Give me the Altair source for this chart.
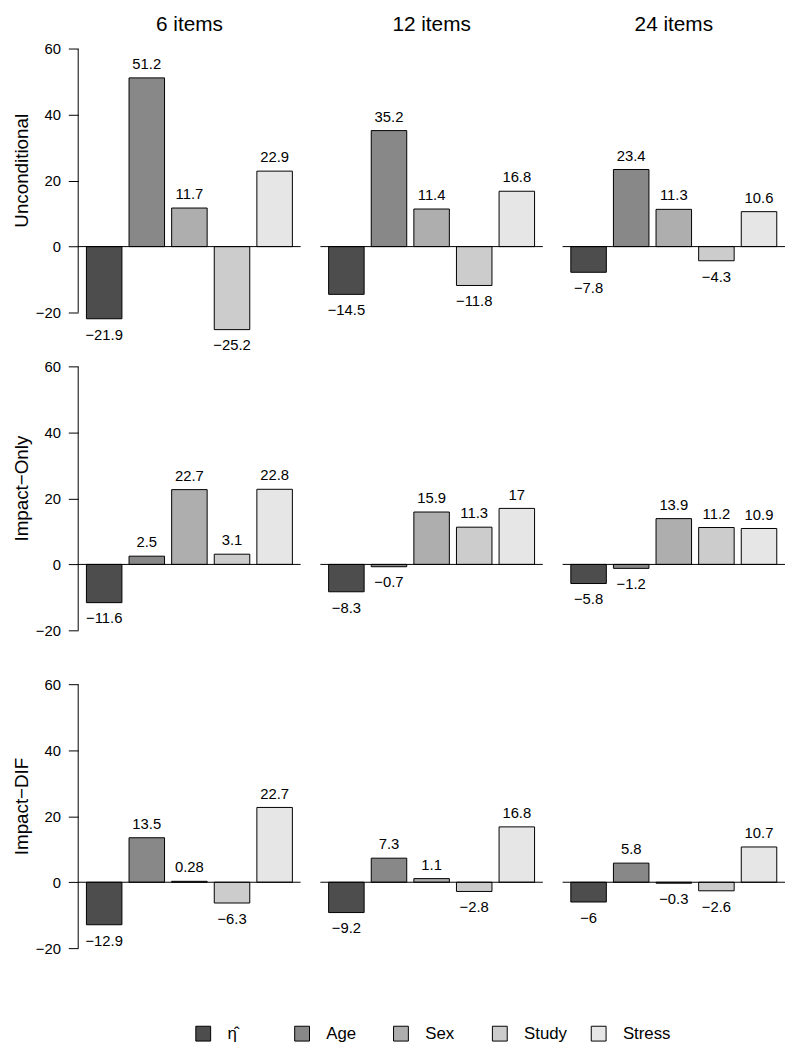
import altair as alt
import pandas as pd

categories = ["η̂", "Age", "Sex", "Study", "Stress"]
col_titles = ["6 items", "12 items", "24 items"]
row_titles = ["Unconditional", "Impact−Only", "Impact−DIF"]
gray_fills = ["#4d4d4d", "#888888", "#aeaeae", "#cccccc", "#e6e6e6"]
y_ticks = [-20, 0, 20, 40, 60]

unconditional_6 = [-21.9, 51.2, 11.7, -25.2, 22.9]
unconditional_12 = [-14.5, 35.2, 11.4, -11.8, 16.8]
unconditional_24 = [-7.8, 23.4, 11.3, -4.3, 10.6]
impact_only_6 = [-11.6, 2.5, 22.7, 3.1, 22.8]
impact_only_12 = [-8.3, -0.7, 15.9, 11.3, 17]
impact_only_24 = [-5.8, -1.2, 13.9, 11.2, 10.9]
impact_dif_6 = [-12.9, 13.5, 0.28, -6.3, 22.7]
impact_dif_12 = [-9.2, 7.3, 1.1, -2.8, 16.8]
impact_dif_24 = [-6, 5.8, -0.3, -2.6, 10.7]

grid = [
    [unconditional_6, unconditional_12, unconditional_24],
    [impact_only_6, impact_only_12, impact_only_24],
    [impact_dif_6, impact_dif_12, impact_dif_24],
]

PANEL_W = 225
PANEL_H = 313.333
Y_DOMAIN = [-30, 64]
FONT = "Liberation Sans"


def fmt(v):
    return f"{v:g}".replace("-", "−")


def panel(vals, r, c):
    df = pd.DataFrame({"cat": categories, "value": vals,
                       "label": [fmt(v) for v in vals]})
    yscale = alt.Scale(domain=Y_DOMAIN, nice=False, zero=False)
    if c == 0:
        yaxis = alt.Axis(values=y_ticks, domain=False, grid=False, ticks=True,
                         tickSize=10, tickColor="black", tickWidth=1,
                         labelFontSize=15, labelPadding=8, labelColor="black",
                         labelFont=FONT, title=None,
                         labelExpr="replace(datum.label, '-', '−')")
    else:
        yaxis = None
    x = alt.X("cat:N", sort=categories, axis=None,
              scale=alt.Scale(paddingInner=0.2 / 1.2, paddingOuter=0.232 / 1.2))
    base = alt.Chart(df)
    bars = base.mark_bar(stroke="black", strokeWidth=1, opacity=1).encode(
        x=x,
        y=alt.Y("value:Q", scale=yscale, axis=yaxis, stack=None),
        y2=alt.datum(0),
        color=alt.Color(
            "cat:N",
            scale=alt.Scale(domain=categories, range=gray_fills),
            legend=alt.Legend(
                orient="none", legendX=118, legendY=1001, direction="horizontal",
                title=None, symbolType="square", symbolSize=225,
                symbolStrokeColor="black", symbolStrokeWidth=1, symbolOpacity=1,
                labelFontSize=17, labelFont=FONT, labelColor="black",
                labelOffset=16, columns=5, gridAlign="all", columnPadding=17,
            ),
        ),
    )
    pos_lab = base.transform_filter("datum.value >= 0").mark_text(
        baseline="alphabetic", dy=-9, fontSize=15, font=FONT, color="black"
    ).encode(x=x, y=alt.Y("value:Q", scale=yscale), text="label:N")
    neg_lab = base.transform_filter("datum.value < 0").mark_text(
        baseline="top", dy=9, fontSize=15, font=FONT, color="black"
    ).encode(x=x, y=alt.Y("value:Q", scale=yscale), text="label:N")
    one = alt.Data(values=[{"k": 1}])
    zero_line = alt.Chart(one).mark_rule(color="black", strokeWidth=1).encode(
        y=alt.datum(0), x=alt.value(0), x2=alt.value(PANEL_W)
    )
    layers = [bars, zero_line, pos_lab, neg_lab]
    if c == 0:
        axis_line = alt.Chart(one).mark_rule(color="black", strokeWidth=1).encode(
            x=alt.value(0), y=alt.datum(y_ticks[0]), y2=alt.datum(y_ticks[-1])
        )
        row_lab = alt.Chart(pd.DataFrame({"t": [row_titles[r]]})).mark_text(
            angle=270, fontSize=19, font=FONT, align="center",
            baseline="alphabetic", color="black"
        ).encode(text="t:N", x=alt.value(-51), y=alt.datum(23))
        layers += [axis_line, row_lab]
    if r == 0:
        col_lab = alt.Chart(pd.DataFrame({"t": [col_titles[c]]})).mark_text(
            fontSize=21, font=FONT, align="center", baseline="alphabetic",
            color="black"
        ).encode(text="t:N", x=alt.value(PANEL_W / 2), y=alt.datum(65.5))
        layers.append(col_lab)
    return alt.layer(*layers).properties(width=PANEL_W, height=PANEL_H)


panels = [panel(grid[r][c], r, c) for r in range(3) for c in range(3)]

chart = alt.concat(
    *panels, columns=3, spacing={"row": 7.5, "column": 20}, bounds="flush"
).properties(
    padding={"left": 5, "top": 0, "right": 0, "bottom": 0}
).configure(font=FONT).configure_view(stroke=None)

chart.save("out.html", embed_options={"renderer": "svg", "actions": False})
